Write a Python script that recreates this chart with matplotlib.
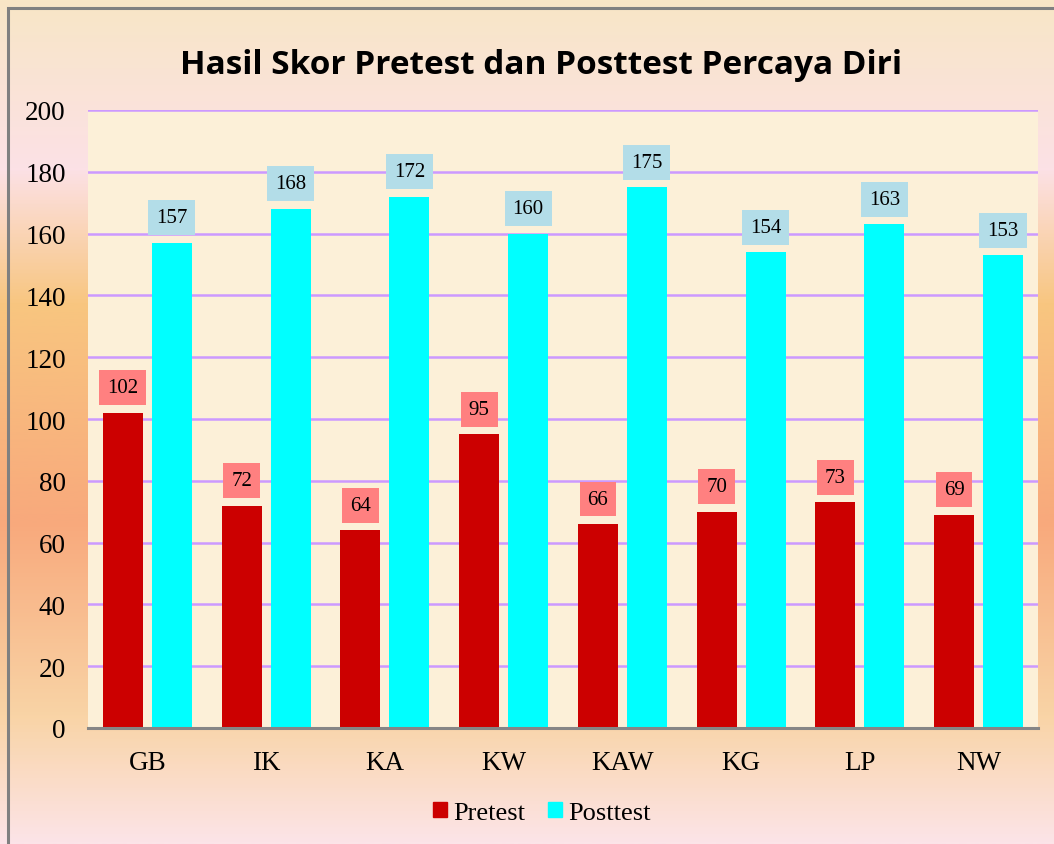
import matplotlib
matplotlib.use('Agg')
import matplotlib.pyplot as plt
import numpy as np
from matplotlib.colors import LinearSegmentedColormap
from matplotlib.patches import Rectangle, Patch

categories = ['GB', 'IK', 'KA', 'KW', 'KAW', 'KG', 'LP', 'NW']
pretest = [102, 72, 64, 95, 66, 70, 73, 69]
posttest = [157, 168, 172, 160, 175, 154, 163, 153]
yticks = list(range(0, 201, 20))
title = 'Hasil Skor Pretest dan Posttest Percaya Diri'
series_names = ['Pretest', 'Posttest']

SERIF = 'Liberation Serif'
W, H = 1054, 845
fig = plt.figure(figsize=(W / 100, H / 100), dpi=100)

# background gradient
bg = fig.add_axes([0, 0, 1, 1], zorder=-10)
stops = [(0.0, '#F8E6C6'), (0.2, '#FCE1E6'), (0.36, '#F8C680'),
         (0.62, '#F8A97C'), (0.85, '#F9D4A6'), (1.0, '#FCE4E8')]
cmap = LinearSegmentedColormap.from_list('bg', stops)
grad = np.linspace(0, 1, 512).reshape(-1, 1)
bg.imshow(grad, cmap=cmap, aspect='auto', extent=[0, 1, 0, 1], origin='upper')
bg.set_xlim(0, 1)
bg.set_ylim(0, 1)
bg.axis('off')
bg.add_patch(Rectangle((8 / W, -0.1), 1.2, 1 - 9 / H + 0.1, fill=False,
                       edgecolor='#808080', lw=2.2, transform=bg.transAxes))

ax = fig.add_axes([88 / W, 1 - 729 / H, (1038 - 88) / W, (729 - 111) / H])
ax.set_facecolor('#FCF0D8')
x = np.arange(len(categories))
bw = 0.337
off = 0.206
ax.bar(x - off, pretest, bw, color='#CC0000', zorder=3)
ax.bar(x + off, posttest, bw, color='#00FFFF', zorder=3)

for xi, v in zip(x, pretest):
    ax.annotate(str(v), (xi - off, v), xytext=(0, 18), textcoords='offset points',
                ha='center', va='center', fontsize=15, family=SERIF, zorder=4,
                bbox=dict(boxstyle='square,pad=0.38', fc='#FF8080', ec='none'))
for xi, v in zip(x, posttest):
    ax.annotate(str(v), (xi + off, v), xytext=(0, 18), textcoords='offset points',
                ha='center', va='center', fontsize=15, family=SERIF, zorder=4,
                bbox=dict(boxstyle='square,pad=0.38', fc='#B3DDE8', ec='none'))

ax.set_xlim(-0.5, len(categories) - 0.5)
ax.set_ylim(0, 200)
ax.set_yticks(yticks)
ax.set_xticks(x)
ax.set_xticklabels(categories)
ax.yaxis.grid(True, color='#CC99FF', lw=1.8, zorder=1)
ax.set_axisbelow(True)
for s in ['top', 'right', 'left']:
    ax.spines[s].set_visible(False)
ax.spines['bottom'].set_color('#868686')
ax.spines['bottom'].set_linewidth(2.2)
ax.spines['bottom'].set_zorder(5)
ax.tick_params(axis='x', length=0, labelsize=19.5, pad=16)
ax.tick_params(axis='y', length=0, labelsize=19.5, pad=16)
for lab in ax.get_xticklabels() + ax.get_yticklabels():
    lab.set_family(SERIF)

fig.text(541 / W, 1 - 74 / H, title, ha='center', va='baseline', fontsize=24,
         fontweight='bold', family='Open Sans')

handles = [Patch(color='#CC0000'), Patch(color='#00FFFF')]
fig.legend(handles, series_names, loc='center', bbox_to_anchor=(542 / W, 1 - 814 / H),
           ncol=2, frameon=False, prop={'family': SERIF, 'size': 19},
           handlelength=0.52, handleheight=0.52, handletextpad=0.25, columnspacing=0.85)

fig.savefig('out.png', dpi=100)
